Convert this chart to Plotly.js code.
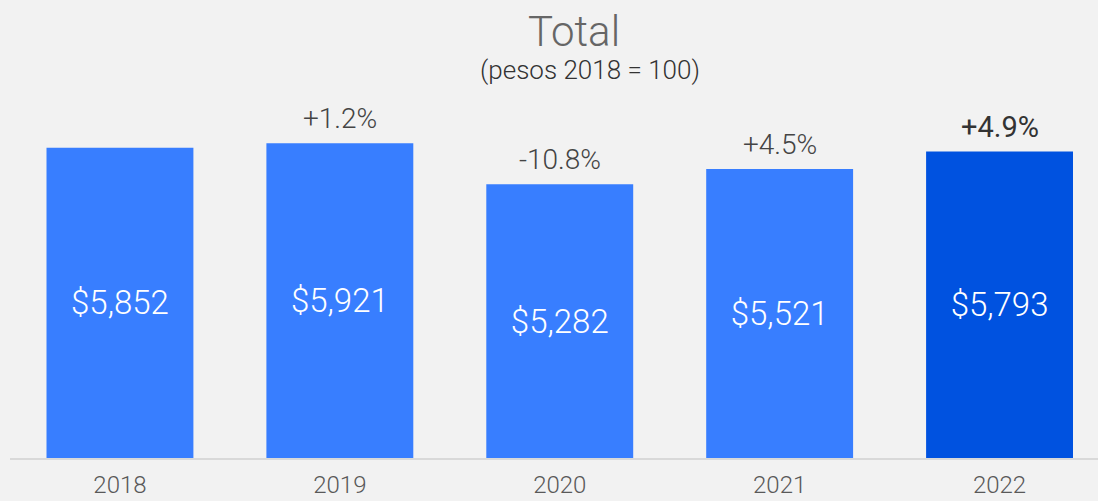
<!DOCTYPE html>
<html>
<head>
<meta charset="utf-8">
<script src="https://cdn.plot.ly/plotly-3.0.1.min.js"></script>
<style>html,body{margin:0;padding:0;background:#f2f2f2;}#chart{width:1098px;height:501px;}</style>
</head>
<body>
<div id="chart"></div>
<script>
const years = ["2018", "2019", "2020", "2021", "2022"];
const totals = [5852, 5921, 5282, 5521, 5793];
const changes = ["", "+1.2%", "-10.8%", "+4.5%", "+4.9%"];
const barColors = ["#387eff", "#387eff", "#387eff", "#387eff", "#0052e0"];
const titleText = "Total";
const subtitleText = "(pesos 2018 = 100)";

const FLOOR = 1020;
const FONT = "Roboto, Inter, sans-serif";

const trace = {
  type: "bar",
  x: years,
  y: totals.map(v => v - FLOOR),
  base: FLOOR,
  customdata: totals,
  texttemplate: "$%{customdata:,}",
  textposition: "inside",
  insidetextanchor: "middle",
  textangle: 0,
  textfont: {family: FONT, size: 33, color: "#ffffff", weight: 300},
  marker: {color: barColors, line: {width: 0}},
  hoverinfo: "skip"
};

const annotations = [];
years.forEach((yr, i) => {
  if (!changes[i]) return;
  const last = i === years.length - 1;
  annotations.push({
    x: i, y: totals[i], xref: "x", yref: "y",
    text: changes[i], showarrow: false,
    xanchor: "center", yanchor: "bottom", yshift: 6,
    font: {family: FONT, size: last ? 29 : 28, color: last ? "#333333" : "#444444", weight: last ? 400 : 300}
  });
});
annotations.push({
  x: 0.5186, y: 1.192, xref: "paper", yref: "paper",
  text: titleText, showarrow: false, xanchor: "center", yanchor: "middle",
  font: {family: FONT, size: 42, color: "#666666", weight: 300}
});
annotations.push({
  x: 0.5329, y: 1.083, xref: "paper", yref: "paper",
  text: subtitleText, showarrow: false, xanchor: "center", yanchor: "middle",
  font: {family: FONT, size: 26, color: "#333333", weight: 300}
});

const layout = {
  width: 1098, height: 501,
  paper_bgcolor: "#f2f2f2", plot_bgcolor: "#f2f2f2",
  margin: {l: 9.5, r: 0, t: 100, b: 43},
  bargap: 0.332,
  showlegend: false,
  xaxis: {
    type: "category", range: [-0.5, 4.4477],
    showline: true, linecolor: "#d9d9d9", linewidth: 1.5,
    showgrid: false, zeroline: false, ticks: "",
    ticklabelstandoff: 5,
    tickfont: {family: FONT, size: 24, color: "#595959", weight: 300}
  },
  yaxis: {
    range: [FLOOR, FLOOR + 5576], showticklabels: false, ticks: "", showline: false,
    showgrid: false, zeroline: false, fixedrange: true
  },
  annotations: annotations
};

Plotly.newPlot("chart", [trace], layout, {displayModeBar: false, staticPlot: true});
</script>
</body>
</html>
